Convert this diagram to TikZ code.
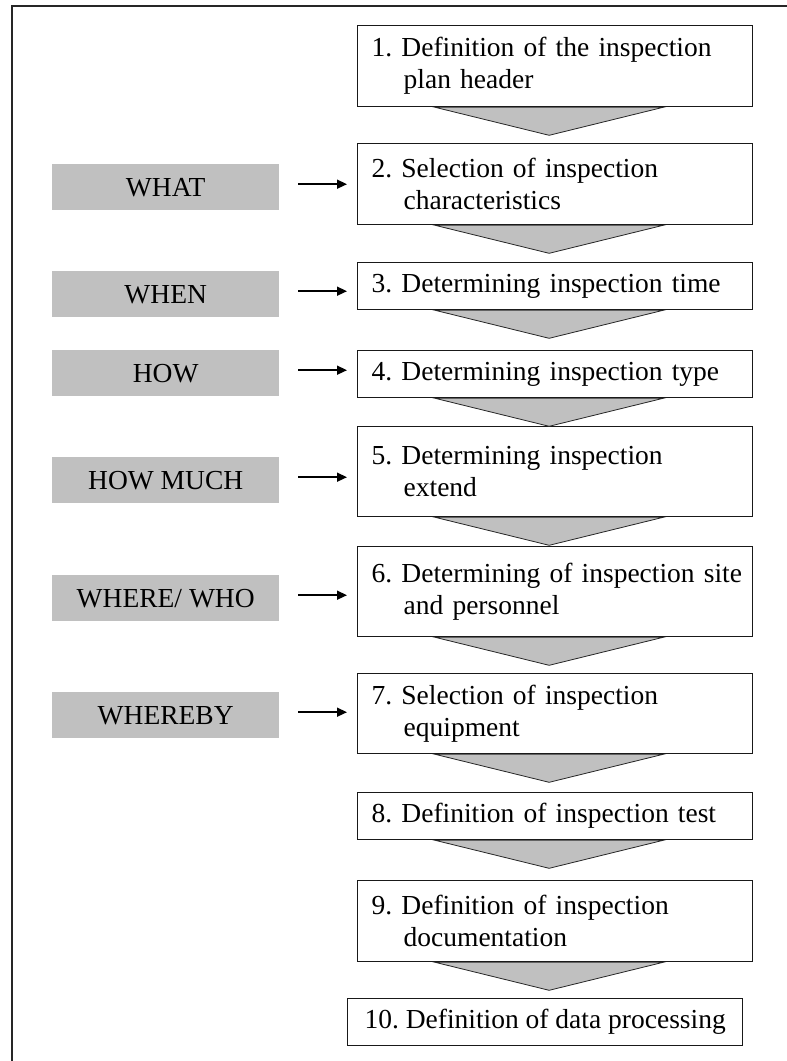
\documentclass[tikz,border=0pt]{standalone}
\usepackage{fontspec}
\setmainfont{Liberation Serif}
\usepackage{tikz}
\usetikzlibrary{calc,arrows.meta}
\definecolor{askgrey}{RGB}{192,192,192}
\frenchspacing

\begin{document}
\begin{tikzpicture}[x=1pt,y=-1pt,
    font=\fontsize{27.5}{32}\selectfont,
    stepbox/.style={draw=black!90, line width=1.3pt, anchor=north west,
        text width=367pt, inner xsep=14pt, inner ysep=0pt, align=left},
    askbox/.style={fill=askgrey, anchor=north west, minimum width=227pt,
        minimum height=46pt, inner sep=0pt},
    chevron/.style={fill=askgrey, draw=black!85, line width=0.8pt, line join=miter},
    infoarrow/.style={line width=1.5pt, -{Triangle[length=10pt,width=9pt]}}]
    \useasboundingbox (0,0) rectangle (787,1061);
    % Frame
    \draw[black!85, line width=1.3pt] (12,1061) -- (12,6) -- (787,6);
    % Inspection plan steps
    \foreach \i/\ytop/\hgt/\txt in {
        1/25/81/{1. Definition of the inspection\\\hspace*{32pt}plan header},
        2/143/81/{2. Selection of inspection\\\hspace*{32pt}characteristics},
        3/262/47/{3. Determining inspection time},
        4/350/47/{4. Determining inspection type},
        5/426/90/{5. Determining inspection\\\hspace*{32pt}extend},
        6/546/90/{\mbox{6. Determining of inspection site}\\\hspace*{32pt}and personnel},
        7/673/80/{7. Selection of inspection\\\hspace*{32pt}equipment},
        8/792/47/{8. Definition of inspection test},
        9/880/81/{9. Definition of inspection\\\hspace*{32pt}documentation}}
        \node[stepbox, minimum height=\hgt pt] (s\i) at (357,\ytop) {\txt};
    \node[draw=black!90, line width=1.3pt, anchor=north west, minimum width=395pt,
        minimum height=47pt, inner sep=0pt] (s10) at (347,998)
        {10. Definition of data processing};
    % Chevrons between the steps
    \foreach \i in {1,...,9}
        \filldraw[chevron] ($(s\i.south)+(-120,0)$) -- ($(s\i.south)+(108,0)$)
            -- ($(s\i.south)+(-6,28)$) -- cycle;
    % Questions
    \foreach \q/\ytop/\txt in {what/164/WHAT, when/271/WHEN, how/350/HOW,
        howmuch/457/HOW MUCH, wherewho/575/{WHERE/ WHO}, whereby/692/WHEREBY}
        \node[askbox] (\q) at (52,\ytop) {\txt};
    \foreach \q/\s in {what/2, when/3, how/4, howmuch/5, wherewho/6, whereby/7}
        \draw[infoarrow] ($(\q.east)+(19,-3)$) -- ($(\q.east -| s\s.west)+(-10,-3)$);
\end{tikzpicture}
\end{document}
